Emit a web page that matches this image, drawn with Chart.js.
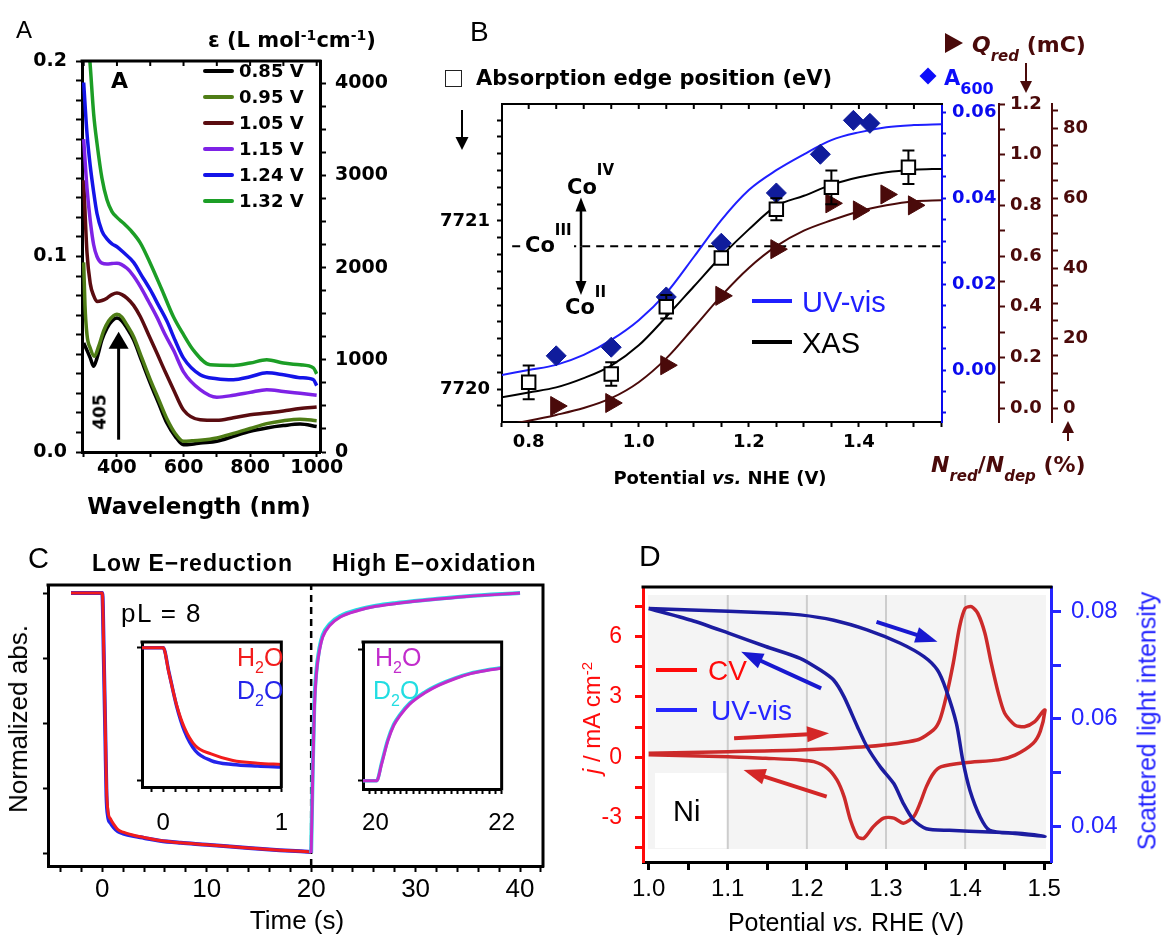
<!DOCTYPE html>
<html>
<head>
<meta charset="utf-8">
<title>Co and Ni oxide spectroelectrochemistry</title>
<script src="https://cdn.jsdelivr.net/npm/chart.js@4.4.1/dist/chart.umd.min.js"></script>
<style>
  body { margin: 0; background: #fff; }
  #fig { position: relative; width: 1162px; height: 935px; overflow: hidden; font-family: "Liberation Sans", Arial, sans-serif; background: #fff; }
  #fig canvas { position: absolute; }
  .lbl { position: absolute; white-space: nowrap; line-height: 1; }
  .lbl span { line-height: 0; }
</style>
</head>
<body>
<div id="fig">
  <canvas id="chartA" width="400" height="530" style="left:0;top:0"></canvas>
  <canvas id="chartB" width="762" height="500" style="left:400px;top:0"></canvas>
  <canvas id="chartC" width="570" height="395" style="left:0;top:540px"></canvas>
  <canvas id="insetRed" width="190" height="215" style="left:115px;top:630px"></canvas>
  <canvas id="insetOx" width="190" height="215" style="left:340px;top:630px"></canvas>
  <canvas id="chartD" width="582" height="395" style="left:580px;top:540px"></canvas>
</div>
<script>
// ---- A: UV-vis spectra at each potential (absorbance vs wavelength, nm)
const potLabelsA = ['0.85 V', '0.95 V', '1.05 V', '1.15 V', '1.24 V', '1.32 V'];
const wl085 = [300, 310, 320, 330, 340, 355, 370, 385, 400, 415, 430, 450, 475, 500, 525, 550, 575, 600, 625, 650, 700, 750, 800, 850, 900, 950, 1000];
const abs085 = [0.0557, 0.052, 0.048, 0.0438, 0.048, 0.0574, 0.0634, 0.067, 0.0685, 0.067, 0.0634, 0.0574, 0.0463, 0.0353, 0.025, 0.0148, 0.008, 0.0037, 0.004, 0.0046, 0.0055, 0.008, 0.0106, 0.0123, 0.0135, 0.0143, 0.013];
const wl095 = [300, 304, 310, 320, 332, 345, 360, 375, 390, 400, 415, 430, 450, 475, 500, 525, 550, 575, 600, 625, 650, 700, 750, 800, 850, 900, 950, 1000];
const abs095 = [0.097, 0.075, 0.06, 0.053, 0.049, 0.054, 0.062, 0.067, 0.0698, 0.0705, 0.069, 0.065, 0.059, 0.048, 0.037, 0.027, 0.017, 0.0095, 0.0055, 0.0057, 0.006, 0.0072, 0.0095, 0.012, 0.0145, 0.016, 0.0168, 0.016];
const wl105 = [300, 310, 320, 330, 340, 355, 370, 385, 400, 415, 430, 450, 470, 495, 520, 545, 570, 600, 650, 700, 750, 800, 850, 900, 950, 1000];
const abs105 = [0.139, 0.102, 0.086, 0.08, 0.077, 0.0775, 0.0787, 0.0805, 0.0813, 0.0805, 0.0787, 0.075, 0.0693, 0.06, 0.0506, 0.041, 0.0319, 0.0215, 0.0165, 0.0162, 0.0175, 0.019, 0.0199, 0.021, 0.0222, 0.023];
const wl115 = [300, 310, 320, 330, 340, 355, 370, 385, 400, 430, 450, 470, 495, 520, 545, 570, 600, 650, 700, 750, 800, 850, 900, 950, 1000];
const abs115 = [0.160, 0.135, 0.118, 0.106, 0.10, 0.0966, 0.0962, 0.0964, 0.0966, 0.094, 0.09, 0.0847, 0.077, 0.069, 0.06, 0.052, 0.041, 0.0319, 0.028, 0.029, 0.0305, 0.0319, 0.031, 0.030, 0.029];
const wl124 = [300, 310, 320, 330, 340, 355, 370, 385, 400, 420, 450, 475, 500, 525, 550, 575, 600, 650, 700, 750, 800, 850, 900, 950, 990, 1000];
const abs124 = [0.189, 0.163, 0.146, 0.133, 0.122, 0.113, 0.109, 0.1065, 0.105, 0.102, 0.097, 0.09, 0.083, 0.075, 0.067, 0.057, 0.048, 0.0395, 0.0375, 0.037, 0.0385, 0.0405, 0.0395, 0.038, 0.037, 0.034];
const wl132 = [312, 320, 330, 340, 355, 370, 385, 400, 420, 440, 470, 500, 535, 570, 600, 630, 680, 750, 800, 850, 900, 950, 990, 1000];
const abs132 = [0.215, 0.197, 0.173, 0.158, 0.14, 0.129, 0.123, 0.120, 0.117, 0.1136, 0.107, 0.0966, 0.083, 0.069, 0.06, 0.052, 0.0446, 0.0443, 0.0455, 0.0472, 0.0455, 0.0446, 0.043, 0.04];

// ---- B: titration vs potential (V vs NHE)
const potXas = [0.80, 0.95, 1.05, 1.15, 1.25, 1.35, 1.49];
const edgeXas = [7720.04, 7720.09, 7720.49, 7720.78, 7721.07, 7721.20, 7721.32];
const edgeErr = [0.10, 0.07, 0.07, 0.03, 0.065, 0.10, 0.10];
const potUv = [0.85, 0.95, 1.05, 1.15, 1.25, 1.33, 1.39, 1.42];
const a600 = [0.0033, 0.0053, 0.017, 0.0295, 0.0412, 0.0502, 0.0581, 0.0574];
const potQ = [0.85, 0.95, 1.05, 1.15, 1.25, 1.35, 1.40, 1.45, 1.50];
const qRed = [0.008, 0.02, 0.169, 0.443, 0.627, 0.808, 0.78, 0.843, 0.80];
const fitPot = [0.75, 0.80, 0.85, 0.90, 0.95, 1.00, 1.05, 1.10, 1.15, 1.20, 1.25, 1.30, 1.35, 1.40, 1.45, 1.50, 1.55];
const uvFit = [-0.0012, 0.0, 0.0012, 0.0035, 0.007, 0.0116, 0.0179, 0.0263, 0.0349, 0.0419, 0.0465, 0.0502, 0.0535, 0.0553, 0.0565, 0.057, 0.0572];
const xasFit = [7719.95, 7719.98, 7720.01, 7720.065, 7720.14, 7720.26, 7720.43, 7720.61, 7720.79, 7720.95, 7721.09, 7721.15, 7721.215, 7721.26, 7721.29, 7721.305, 7721.31];
const qFit = [-0.07, -0.05, -0.027, 0.0, 0.039, 0.102, 0.196, 0.318, 0.443, 0.553, 0.639, 0.70, 0.741, 0.776, 0.80, 0.816, 0.82];
const co3Pot = [0.77, 1.55];
const co3Edge = [7720.85, 7720.85];

// ---- C: normalized absorbance transients (s)
const tRed = [-3, 0, 0.15, 0.3, 0.4, 0.55, 0.8, 1.1, 1.5, 2, 3, 4, 5.5, 7.5, 10, 14, 17, 20];
const h2oRed = [1, 1, 0.75, 0.45, 0.25, 0.16, 0.13, 0.11, 0.09, 0.08, 0.068, 0.06, 0.048, 0.039, 0.032, 0.019, 0.011, 0.004];
const d2oRed = [1, 1, 0.74, 0.43, 0.22, 0.14, 0.115, 0.098, 0.083, 0.075, 0.065, 0.058, 0.047, 0.039, 0.032, 0.019, 0.011, 0.004];
const tOx = [20, 20.15, 20.3, 20.5, 20.8, 21.1, 21.8, 22.8, 24.5, 26.2, 28, 31.4, 34.9, 40];
const h2oOx = [0, 0.3, 0.55, 0.69, 0.78, 0.83, 0.876, 0.908, 0.933, 0.949, 0.959, 0.974, 0.987, 1.0];
const d2oOx = [0, 0.32, 0.57, 0.70, 0.79, 0.838, 0.882, 0.912, 0.936, 0.951, 0.961, 0.975, 0.988, 1.0];
const stepTime = [20, 20];
const stepAbs = [-0.05, 1.031];
const tInsRed = [-0.18, 0, 0.047, 0.113, 0.18, 0.272, 0.405, 0.59, 0.8, 1.0];
const h2oInsRed = [1, 1, 0.815, 0.568, 0.395, 0.259, 0.198, 0.148, 0.128, 0.119];
const d2oInsRed = [1, 1, 0.82, 0.56, 0.37, 0.222, 0.148, 0.118, 0.106, 0.099];
const tInsOx = [19.8, 20.02, 20.1, 20.195, 20.29, 20.39, 20.54, 20.78, 21.02, 21.27, 21.51, 21.76, 22.0];
const h2oInsOx = [0, 0, 0.128, 0.30, 0.42, 0.496, 0.582, 0.668, 0.73, 0.779, 0.816, 0.84, 0.857];
const d2oInsOx = [0, 0, 0.14, 0.31, 0.43, 0.505, 0.59, 0.675, 0.736, 0.784, 0.82, 0.843, 0.86];

// ---- D: Ni film CV and scattered light (V vs RHE), anodic sweep then cathodic return
const cvPot = [1.0, 1.101, 1.1915, 1.276, 1.339, 1.36, 1.368, 1.376, 1.385, 1.393, 1.4, 1.408, 1.416, 1.425, 1.433, 1.442, 1.45, 1.463, 1.475, 1.488, 1.498, 1.501,
               1.495, 1.486, 1.463, 1.442, 1.4, 1.37, 1.36, 1.351, 1.343, 1.335, 1.322, 1.31, 1.297, 1.284, 1.272, 1.264, 1.255, 1.247, 1.238, 1.226, 1.209, 1.1915, 1.148, 1.101, 1.0];
const cvJ = [0.2, 0.28, 0.36, 0.53, 0.86, 1.36, 1.86, 3.0, 4.68, 6.5, 7.41, 7.49, 7.16, 6.17, 4.68, 3.18, 2.19, 1.6, 1.52, 1.77, 2.27, 2.35,
             1.3, 0.7, 0.11, -0.13, -0.27, -0.47, -0.8, -1.46, -2.29, -2.95, -3.28, -3.03, -3.03, -3.45, -4.03, -3.95, -3.12, -1.96, -1.13, -0.55, -0.22, -0.13, -0.05, 0.03, 0.12];
const uvPot = [1.0, 1.054, 1.148, 1.1915, 1.234, 1.276, 1.318, 1.348, 1.365, 1.376, 1.389, 1.397, 1.406, 1.419, 1.431, 1.463, 1.501,
               1.463, 1.43, 1.38, 1.351, 1.335, 1.322, 1.31, 1.293, 1.276, 1.264, 1.247, 1.234, 1.217, 1.1915, 1.148, 1.101, 1.054, 1.0];
const uvScat = [0.0806, 0.0803, 0.0798, 0.0794, 0.0784, 0.0766, 0.0741, 0.0716, 0.0691, 0.0654, 0.0591, 0.0523, 0.0467, 0.0417, 0.0392, 0.0386, 0.0381,
                0.0387, 0.0389, 0.0392, 0.0395, 0.0411, 0.0442, 0.0479, 0.051, 0.0548, 0.0585, 0.0641, 0.0672, 0.0691, 0.0713, 0.0735, 0.076, 0.0784, 0.0806];

// ---------------------------------------------------------------
Chart.defaults.font.family = '"Liberation Sans", Arial, sans-serif';
Chart.defaults.color = '#000';
Chart.defaults.animation = false;
Chart.defaults.responsive = false;
Chart.defaults.events = [];
Chart.defaults.plugins.legend.display = false;
Chart.defaults.plugins.tooltip.enabled = false;

const DJ = 'font-family:"DejaVu Sans";font-weight:bold;';
const djFont = size => ({ family: '"DejaVu Sans"', weight: 'bold', size });
const arFont = size => ({ family: '"Liberation Sans"', size });

const pts = (xs, ys) => xs.map((x, i) => ({ x, y: ys[i] }));
const steps = (a, b, s) => {
  const out = [];
  const n = Math.round((b - a) / s);
  for (let i = 0; i <= n; i++) out.push(+(a + i * s).toFixed(6));
  return out;
};
const onStep = (v, s) => Math.abs(v / s - Math.round(v / s)) < 1e-6;

// linear axis with fixed tick positions, a fixed box size and labels every `every`
function axis(o) {
  const c = o.color || '#000';
  return {
    type: 'linear', position: o.pos, min: o.min, max: o.max, weight: o.weight || 0,
    afterBuildTicks: s => { s.ticks = o.ticks.map(v => ({ value: v })); },
    afterFit: s => {
      if (o.pos === 'left' || o.pos === 'right') s.width = o.size; else s.height = o.size;
    },
    border: { color: c, width: o.bw || 2 },
    grid: { drawOnChartArea: false, color: c, tickColor: c, tickLength: o.tl, tickWidth: o.tw || 2 },
    ticks: {
      autoSkip: false, maxRotation: 0, minRotation: 0, padding: o.pad || 0, color: c, font: o.font,
      callback: v => (o.every && onStep(v, o.every)) ? o.fmt(v) : ''
    }
  };
}

function arrow(ctx, x1, y1, x2, y2, o) {
  const a = Math.atan2(y2 - y1, x2 - x1);
  const h = o.head, w = o.hw;
  ctx.save();
  ctx.strokeStyle = ctx.fillStyle = o.color;
  ctx.lineWidth = o.lw;
  ctx.beginPath();
  ctx.moveTo(x1, y1);
  ctx.lineTo(x2 - h * 0.7 * Math.cos(a), y2 - h * 0.7 * Math.sin(a));
  ctx.stroke();
  ctx.beginPath();
  ctx.moveTo(x2, y2);
  ctx.lineTo(x2 - h * Math.cos(a) + w * Math.sin(a), y2 - h * Math.sin(a) - w * Math.cos(a));
  ctx.lineTo(x2 - h * Math.cos(a) - w * Math.sin(a), y2 - h * Math.sin(a) + w * Math.cos(a));
  ctx.closePath();
  ctx.fill();
  ctx.restore();
}

// top (and optionally right) edge of the plot box, with inward ticks on top
function frame(o) {
  return {
    id: 'frame',
    afterDraw(chart) {
      const { ctx, chartArea: a, scales } = chart;
      ctx.save();
      ctx.strokeStyle = '#000';
      ctx.lineWidth = o.width;
      ctx.lineCap = 'square';
      ctx.beginPath();
      ctx.moveTo(a.left, a.top);
      ctx.lineTo(a.right, a.top);
      if (o.right) ctx.lineTo(a.right, a.bottom);
      ctx.stroke();
      ctx.lineCap = 'butt';
      ctx.lineWidth = 2;
      (o.ticks || []).forEach(v => {
        const px = scales.x.getPixelForValue(v);
        ctx.beginPath();
        ctx.moveTo(px, a.top);
        ctx.lineTo(px, a.top + o.len);
        ctx.stroke();
      });
      ctx.restore();
    }
  };
}

// ---- text layer
const fig = document.getElementById('fig');
function put(html, x, y, style, ax = 0, rot = 0) {
  const el = document.createElement('div');
  el.className = 'lbl';
  el.innerHTML = html;
  el.style.cssText = style;
  el.style.left = x + 'px';
  el.style.top = y + 'px';
  el.style.transform = `translate(${-ax * 100}%, -50%)` + (rot ? ` rotate(${rot}deg)` : '');
  fig.appendChild(el);
  return el;
}
function swatch(x, y, w, h, color, extra = '') {
  const el = document.createElement('div');
  el.style.cssText = `position:absolute;left:${x}px;top:${y - h / 2}px;width:${w}px;height:${h}px;background:${color};${extra}`;
  fig.appendChild(el);
  return el;
}

// ================= A =================
const colorsA = ['#000000', '#4f7d16', '#5a0c10', '#7e22e6', '#1414e8', '#1c9e26'];
const seriesA = [[wl085, abs085], [wl095, abs095], [wl105, abs105], [wl115, abs115], [wl124, abs124], [wl132, abs132]];

const arrow405 = {
  id: 'arrow405',
  afterDatasetsDraw(chart) {
    const { ctx, scales: { x, y } } = chart;
    const px = x.getPixelForValue(405);
    arrow(ctx, px, y.getPixelForValue(0.0063), px, y.getPixelForValue(0.0615), { color: '#000', lw: 3, head: 17, hw: 10 });
  }
};

new Chart(document.getElementById('chartA'), {
  type: 'scatter',
  data: {
    datasets: seriesA.map((s, i) => ({
      label: potLabelsA[i], data: pts(s[0], s[1]), showLine: true, pointRadius: 0,
      borderColor: colorsA[i], borderWidth: 3.5, cubicInterpolationMode: 'monotone'
    })).reverse()
  },
  options: {
    layout: { padding: { top: 61, left: 0, right: 0, bottom: 0 } },
    scales: {
      x: axis({ pos: 'bottom', min: 295, max: 1010, ticks: steps(300, 1000, 100), every: 200, fmt: String,
                size: 78, tl: 5, pad: 0, bw: 3, font: djFont(19) }),
      y: axis({ pos: 'left', min: 0, max: 0.2, ticks: steps(0, 0.2, 0.01), every: 0.1, fmt: v => v.toFixed(1),
                size: 82, tl: 6, pad: 9, bw: 3, font: djFont(19) }),
      y2: axis({ pos: 'right', min: 0, max: 4240, ticks: steps(0, 4000, 250), every: 1000, fmt: String,
                 size: 80, tl: 6, pad: 9, bw: 3, font: djFont(19) })
    }
  },
  plugins: [frame({ width: 3, ticks: steps(300, 1000, 100), len: 5 }), arrow405]
});

put('A', 16, 30, 'font-size:24px');
put('ε (L mol<span style="position:relative;top:-7px;font-size:14px">-1</span>cm<span style="position:relative;top:-7px;font-size:14px">-1</span>)', 208, 40, DJ + 'font-size:21px');
put('A', 111, 81, DJ + 'font-size:22px');
put('405', 100, 412, DJ + 'font-size:17px', 0.5, -90);
put('Wavelength (nm)', 199, 506, DJ + 'font-size:23px', 0.5);
const legendYA = [71, 97, 123, 149, 175, 201];
potLabelsA.forEach((lab, i) => {
  swatch(203, legendYA[i], 31, 4, colorsA[i], 'border-radius:2px');
  put(lab, 239, legendYA[i], DJ + 'font-size:18px');
});

// ================= B =================
const navy = '#101c9c', uvBlue = '#1f1fff', axisBlue = '#0a0aee', maroon = '#4a0a0a';

const overlayB = {
  id: 'overlayB',
  afterDatasetsDraw(chart) {
    const { ctx, scales: { x, y } } = chart;
    // error bars on the edge positions, kept outside the square markers
    ctx.save();
    ctx.strokeStyle = '#000';
    ctx.lineWidth = 2;
    potXas.forEach((p, i) => {
      const px = x.getPixelForValue(p);
      const pc = y.getPixelForValue(edgeXas[i]);
      const top = y.getPixelForValue(edgeXas[i] + edgeErr[i]);
      const bot = y.getPixelForValue(edgeXas[i] - edgeErr[i]);
      ctx.beginPath();
      if (top < pc - 7) { ctx.moveTo(px, top); ctx.lineTo(px, pc - 7); ctx.moveTo(px - 6, top); ctx.lineTo(px + 6, top); }
      if (bot > pc + 7) { ctx.moveTo(px, pc + 7); ctx.lineTo(px, bot); ctx.moveTo(px - 6, bot); ctx.lineTo(px + 6, bot); }
      ctx.stroke();
    });
    ctx.restore();
    // Co(III) <-> Co(IV) / Co(II) double arrow
    const ax = x.getPixelForValue(0.895);
    const yUp = y.getPixelForValue(7721.14), yDn = y.getPixelForValue(7720.56), yMid = (yUp + yDn) / 2;
    arrow(ctx, ax, yMid, ax, yUp, { color: '#000', lw: 2.5, head: 14, hw: 5.5 });
    arrow(ctx, ax, yMid, ax, yDn, { color: '#000', lw: 2.5, head: 14, hw: 5.5 });
  },
  afterDraw(chart) {
    const { ctx } = chart;
    arrow(ctx, 62, 110, 62, 150, { color: '#000', lw: 2, head: 13, hw: 6.5 });
    arrow(ctx, 626, 63, 626, 93, { color: maroon, lw: 2, head: 12, hw: 6 });
    arrow(ctx, 668, 441, 668, 421, { color: maroon, lw: 2, head: 12, hw: 6 });
  }
};

new Chart(document.getElementById('chartB'), {
  type: 'scatter',
  data: {
    datasets: [
      { label: 'Absorption edge', data: pts(potXas, edgeXas), yAxisID: 'y', pointStyle: 'rect', pointRadius: 9.5,
        backgroundColor: '#fff', borderColor: '#000', borderWidth: 2 },
      { label: 'A600', data: pts(potUv, a600), yAxisID: 'yUv', pointStyle: 'rectRot', pointRadius: 10,
        backgroundColor: navy, borderColor: navy, borderWidth: 1 },
      { label: 'Qred', data: pts(potQ, qRed), yAxisID: 'yQ', pointStyle: 'triangle', pointRotation: 90, pointRadius: 11,
        backgroundColor: maroon, borderColor: maroon, borderWidth: 1 },
      { label: 'XAS', data: pts(fitPot, xasFit), yAxisID: 'y', showLine: true, pointRadius: 0,
        borderColor: '#000', borderWidth: 2, cubicInterpolationMode: 'monotone' },
      { label: 'UV-vis', data: pts(fitPot, uvFit), yAxisID: 'yUv', showLine: true, pointRadius: 0,
        borderColor: uvBlue, borderWidth: 2, cubicInterpolationMode: 'monotone' },
      { label: 'Qred fit', data: pts(fitPot, qFit), yAxisID: 'yQ', showLine: true, pointRadius: 0,
        borderColor: maroon, borderWidth: 2, cubicInterpolationMode: 'monotone' },
      { label: 'CoIII', data: pts(co3Pot, co3Edge), yAxisID: 'y', showLine: true, pointRadius: 0,
        borderColor: '#000', borderWidth: 2, borderDash: [8, 6] }
    ]
  },
  options: {
    layout: { padding: { top: 104, left: 0, right: 0, bottom: 0 } },
    scales: {
      x: axis({ pos: 'bottom', min: 0.7515, max: 1.551, ticks: steps(0.75, 1.55, 0.05), every: 0.2, fmt: v => v.toFixed(1),
                size: 78, tl: 5, pad: 5, bw: 2, font: djFont(18) }),
      y: axis({ pos: 'left', min: 7719.804, max: 7721.696, ticks: steps(7719.9, 7721.6, 0.1), every: 1, fmt: v => String(Math.round(v)),
                size: 102, tl: 5, pad: 7, bw: 2, font: djFont(18) }),
      yUv: axis({ pos: 'right', weight: 1, min: -0.0121, max: 0.0619, ticks: steps(-0.01, 0.06, 0.005), every: 0.02, fmt: v => v.toFixed(2),
                  color: axisBlue, size: 57, tl: 4, pad: 6, bw: 2, font: djFont(18) }),
      yQ: axis({ pos: 'right', weight: 2, min: -0.055, max: 1.2, ticks: steps(0, 1.2, 0.1), every: 0.2, fmt: v => v.toFixed(1),
                 color: maroon, size: 53, tl: 6, pad: 5, bw: 2, font: djFont(18) }),
      yPct: axis({ pos: 'right', weight: 3, min: -4.0, max: 86.9, ticks: steps(0, 85, 5), every: 20, fmt: String,
                   color: maroon, size: 110, tl: 6, pad: 5, bw: 2, font: djFont(18) })
    }
  },
  plugins: [frame({ width: 2, ticks: steps(0.8, 1.5, 0.05), len: 5 }), overlayB]
});

put('B', 470, 32, 'font-size:28px');
swatch(445, 78, 17, 17, '#fff', 'border:1.5px solid #222;box-sizing:border-box');
put('Absorption edge position (eV)', 476, 78, DJ + 'font-size:21px');
swatch(921.5, 75.5, 12, 12, '#0d0dfa', 'transform:rotate(45deg)');
put('A<span style="position:relative;top:9px;font-size:16px">600</span>', 944, 78, DJ + 'font-size:21px;color:#0d0dfa');
const triB = document.createElement('div');
triB.style.cssText = `position:absolute;left:945px;top:33px;width:0;height:0;border-left:18px solid ${maroon};border-top:10px solid transparent;border-bottom:10px solid transparent`;
fig.appendChild(triB);
put('<i>Q</i><span style="position:relative;top:9px;font-size:15px"><i>red</i></span> (mC)', 972, 45, DJ + 'font-size:22px;color:' + maroon);
put('<i>N</i><span style="position:relative;top:9px;font-size:15px"><i>red</i></span>/<i>N</i><span style="position:relative;top:9px;font-size:15px"><i>dep</i></span> (%)', 931, 465, DJ + 'font-size:22px;color:' + maroon);
put('Potential <i>vs.</i> NHE (V)', 720, 478, DJ + 'font-size:18px', 0.5);
put('Co<span style="position:relative;top:-19px;font-size:15px">IV</span>', 567, 187, DJ + 'font-size:21px');
put('Co<span style="position:relative;top:-17px;font-size:15px">III</span>', 523, 245, DJ + 'font-size:21px;background:#fff;padding:0 2px');
put('Co<span style="position:relative;top:-17px;font-size:15px">II</span>', 565, 307, DJ + 'font-size:21px');
swatch(752, 301, 40, 4, uvBlue);
put('UV-vis', 802, 302, 'font-size:29px;color:' + uvBlue);
swatch(752, 342, 40, 4, '#000');
put('XAS', 802, 343, 'font-size:29px');

// ================= C =================
const cRed = '#f21c1c', cBlue = '#2424ea', cMag = '#c22ccc', cCyan = '#22dde2';
const lineC = (data, color, w) => ({ data, showLine: true, pointRadius: 0, borderColor: color, borderWidth: w, cubicInterpolationMode: 'monotone' });

new Chart(document.getElementById('chartC'), {
  type: 'scatter',
  data: {
    datasets: [
      lineC(pts(tOx, h2oOx), cMag, 3),
      lineC(pts(tOx, d2oOx), cCyan, 4),
      lineC(pts(tRed, h2oRed), cRed, 3),
      lineC(pts(tRed, d2oRed), cBlue, 4),
      { data: pts(stepTime, stepAbs), showLine: true, pointRadius: 0, borderColor: '#000', borderWidth: 2.5, borderDash: [7, 5] }
    ]
  },
  options: {
    layout: { padding: { top: 45, left: 0, right: 27, bottom: 0 } },
    scales: {
      x: axis({ pos: 'bottom', min: -5.2, max: 42.2, ticks: steps(-4, 42, 2), every: 10, fmt: String,
                size: 69, tl: 6, pad: 2, bw: 3, font: arFont(26) }),
      y: axis({ pos: 'left', min: -0.05, max: 1.031, ticks: steps(0, 1, 0.25), every: null,
                size: 48, tl: 5, bw: 3, font: arFont(20) })
    }
  },
  plugins: [frame({ width: 3, right: true })]
});

new Chart(document.getElementById('insetRed'), {
  type: 'scatter',
  data: { datasets: [lineC(pts(tInsRed, h2oInsRed), cRed, 3), lineC(pts(tInsRed, d2oInsRed), cBlue, 3.5)] },
  options: {
    layout: { padding: { top: 9, left: 0, right: 13, bottom: 0 } },
    scales: {
      x: axis({ pos: 'bottom', min: -0.18, max: 1.0, ticks: steps(-0.1, 1.0, 0.1), every: 1, fmt: v => String(Math.round(v)),
                size: 58, tl: 5, pad: 17, bw: 3, font: arFont(24) }),
      y: axis({ pos: 'left', min: -0.052, max: 1.044, ticks: [0, 1], every: null, size: 27, tl: 5, bw: 3, font: arFont(20) })
    }
  },
  plugins: [frame({ width: 3, right: true })]
});

new Chart(document.getElementById('insetOx'), {
  type: 'scatter',
  data: { datasets: [lineC(pts(tInsOx, h2oInsOx), cMag, 3), lineC(pts(tInsOx, d2oInsOx), cCyan, 3.5)] },
  options: {
    layout: { padding: { top: 7, left: 0, right: 17, bottom: 0 } },
    scales: {
      x: axis({ pos: 'bottom', min: 19.804, max: 22.0, ticks: steps(19.9, 22.0, 0.1), every: 2, fmt: v => String(Math.round(v)),
                size: 56, tl: 5, pad: 15, bw: 3, font: arFont(24) }),
      y: axis({ pos: 'left', min: -0.063, max: 1.057, ticks: [0, 1], every: null, size: 23, tl: 5, bw: 3, font: arFont(20) })
    }
  },
  plugins: [frame({ width: 3, right: true })]
});

put('C', 28, 558, 'font-size:29px');
put('Low E−reduction', 92, 563, 'font-size:23px;font-weight:bold;letter-spacing:1px');
put('High E−oxidation', 332, 563, 'font-size:23px;font-weight:bold;letter-spacing:1px');
put('pL = 8', 121, 613, 'font-size:26px;letter-spacing:1.5px');
put('Normalized abs.', 18, 719, 'font-size:26px', 0.5, -90);
put('Time (s)', 297, 920, 'font-size:26px', 0.5);
const sub2 = '<span style="position:relative;top:7px;font-size:16px">2</span>';
put('H' + sub2 + 'O', 237, 657, 'font-size:25px;color:' + cRed);
put('D' + sub2 + 'O', 237, 690, 'font-size:25px;color:' + cBlue);
put('H' + sub2 + 'O', 375, 657, 'font-size:25px;color:' + cMag);
put('D' + sub2 + 'O', 373, 690, 'font-size:25px;color:' + cCyan);

// ================= D =================
const dRed = '#ff0a0a', dBlue = '#2525ff', cvColor = '#cc2a2a', uvColor = '#1c1ca0';

const backdropD = {
  id: 'backdropD',
  beforeDraw(chart) {
    const { ctx, chartArea: a, scales: { x } } = chart;
    ctx.save();
    ctx.fillStyle = '#f4f4f4';
    ctx.fillRect(a.left + 5, a.top + 8, a.width - 10, a.height - 21);
    ctx.fillStyle = '#ffffff';
    ctx.fillRect(a.left + 12, a.top + 186, 72, 75);
    ctx.strokeStyle = '#cdcdcd';
    ctx.lineWidth = 2;
    [1.1, 1.2, 1.3, 1.4].forEach(v => {
      const px = x.getPixelForValue(v);
      ctx.beginPath();
      ctx.moveTo(px, a.top + 8);
      ctx.lineTo(px, a.bottom - 13);
      ctx.stroke();
    });
    ctx.restore();
  },
  afterDatasetsDraw(chart) {
    const { ctx, scales: { x, y, y2 } } = chart;
    const sweep = [
      { s: y2, from: [1.288, 0.0781], to: [1.365, 0.0744], color: '#1818d0' },
      { s: y2, from: [1.218, 0.0657], to: [1.117, 0.0725], color: '#1818d0' },
      { s: y, from: [1.108, 0.945], to: [1.228, 1.2], color: '#d42626' },
      { s: y, from: [1.225, -1.96], to: [1.12, -0.63], color: '#d42626' }
    ];
    sweep.forEach(a => arrow(ctx, x.getPixelForValue(a.from[0]), a.s.getPixelForValue(a.from[1]),
      x.getPixelForValue(a.to[0]), a.s.getPixelForValue(a.to[1]), { color: a.color, lw: 4, head: 22, hw: 8 }));
  }
};

new Chart(document.getElementById('chartD'), {
  type: 'scatter',
  data: {
    datasets: [
      { label: 'UV-vis', data: pts(uvPot, uvScat), yAxisID: 'y2', showLine: true, pointRadius: 0,
        borderColor: uvColor, borderWidth: 3.5, tension: 0.25 },
      { label: 'CV', data: pts(cvPot, cvJ), yAxisID: 'y', showLine: true, pointRadius: 0,
        borderColor: cvColor, borderWidth: 3.5, tension: 0.25 }
    ]
  },
  options: {
    layout: { padding: { top: 47, left: 0, right: 0, bottom: 0 } },
    scales: {
      x: axis({ pos: 'bottom', min: 0.9929, max: 1.5085, ticks: steps(1.0, 1.5, 0.05), every: 0.1, fmt: v => v.toFixed(1),
                size: 73, tl: 8, pad: 5, bw: 3, tw: 3, font: arFont(24) }),
      y: axis({ pos: 'left', min: -5.21, max: 8.47, ticks: steps(-4.5, 7.5, 1.5), every: 3, fmt: v => String(Math.round(v)),
                color: dRed, size: 63, tl: 8, pad: 13, bw: 3, tw: 3, font: arFont(23) }),
      y2: axis({ pos: 'right', min: 0.0333, max: 0.0846, ticks: steps(0.04, 0.08, 0.01), every: 0.02, fmt: v => v.toFixed(2),
                 color: dBlue, size: 111, tl: 10, pad: 10, bw: 3, tw: 3, font: arFont(24) })
    }
  },
  plugins: [backdropD, frame({ width: 3 })]
});

put('D', 639, 556, 'font-size:30px');
put('<i>j</i> / mA cm<span style="position:relative;top:-8px;font-size:15px">-2</span>', 592, 718, 'font-size:24px;color:' + dRed, 0.5, -90);
put('Scattered light intensity', 1147, 721, 'font-size:25px;color:' + dBlue, 0.5, -90);
put('Potential <i>vs.</i> RHE (V)', 846, 922, 'font-size:25px', 0.5);
swatch(656, 670, 41, 4, dRed);
put('CV', 708, 671, 'font-size:28px;color:' + dRed);
swatch(656, 710, 41, 4, dBlue);
put('UV-vis', 711, 711, 'font-size:28px;color:' + dBlue);
put('Ni', 673, 811, 'font-size:29px');
</script>
</body>
</html>
